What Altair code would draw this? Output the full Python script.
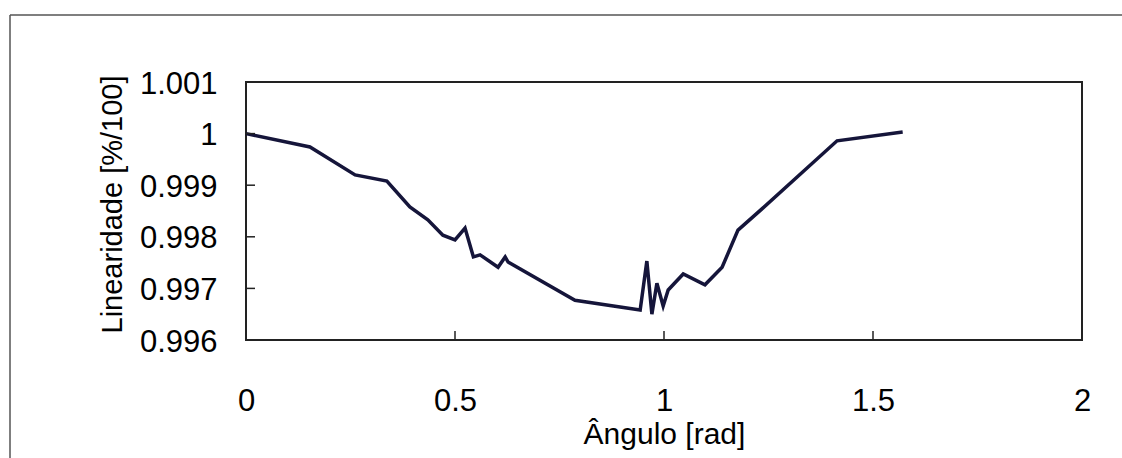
import altair as alt
import pandas as pd

# Angle (rad) and linearity (fraction of 1) along the measured curve
angulo = [0.000, 0.153, 0.261, 0.337, 0.392, 0.435, 0.471, 0.500, 0.524, 0.544,
          0.560, 0.603, 0.620, 0.627, 0.787, 0.943, 0.959, 0.971, 0.983, 0.998,
          1.010, 1.046, 1.098, 1.139, 1.177, 1.237, 1.414, 1.571]
linearidade = [1.00000, 0.99974, 0.99920, 0.99908, 0.99858, 0.99833, 0.99803,
               0.99794, 0.99817, 0.99761, 0.99765, 0.99741, 0.99761, 0.99751,
               0.99677, 0.99658, 0.99753, 0.99650, 0.99710, 0.99666, 0.99697,
               0.99728, 0.99707, 0.99741, 0.99813, 0.99856, 0.99986, 1.00003]

x_ticks = [0, 0.5, 1, 1.5, 2]
y_ticks = [0.996, 0.997, 0.998, 0.999, 1.000, 1.001]

W, H = 836, 258
FONT = "Liberation Sans"
LINE = "#15153a"
LABEL_EXPR = "format(datum.value, '.4~g')"

df = pd.DataFrame({"angulo": angulo, "linearidade": linearidade})

x_scale = alt.Scale(domain=[0, 2], nice=False, zero=False)
y_scale = alt.Scale(domain=[0.996, 1.001], nice=False, zero=False)

x_axis = alt.Axis(values=x_ticks, labelExpr=LABEL_EXPR, ticks=False, tickSize=0, domain=False,
                  grid=False, labelFont=FONT, labelFontSize=31, labelColor="black",
                  labelBaseline="alphabetic", labelPadding=70, labelFlush=False,
                  labelOverlap=False, title="Ângulo [rad]", titleFont=FONT,
                  titleFontSize=30, titleFontWeight="normal", titleColor="black",
                  titleX=418, titleY=103, titleBaseline="alphabetic", titleAlign="center")
y_axis = alt.Axis(values=y_ticks, labelExpr=LABEL_EXPR, ticks=False, tickSize=0, domain=False,
                  grid=False, labelFont=FONT, labelFontSize=31, labelColor="black",
                  labelPadding=29, labelOffset=2, labelFlush=False, labelOverlap=False,
                  title="Linearidade [%/100]", titleFont=FONT, titleFontSize=29,
                  titleFontWeight="normal", titleColor="black", titleX=-134,
                  titleY=122, titleAlign="center", titleBaseline="middle")

curve = alt.Chart(df).mark_line(color=LINE, strokeWidth=3.5, strokeJoin="miter").encode(
    x=alt.X("angulo:Q", scale=x_scale, axis=x_axis),
    y=alt.Y("linearidade:Q", scale=y_scale, axis=y_axis),
)

# Inward tick marks on the bottom and left edges of the plot box
xt = alt.Chart(pd.DataFrame({"angulo": x_ticks[1:-1]})).mark_rule(color="#222", strokeWidth=1.5).encode(
    x=alt.X("angulo:Q", scale=x_scale, axis=x_axis),
    y=alt.value(H), y2=alt.value(H - 9),
)
yt = alt.Chart(pd.DataFrame({"linearidade": y_ticks[1:-1]})).mark_rule(color="#222", strokeWidth=1.5).encode(
    y=alt.Y("linearidade:Q", scale=y_scale, axis=y_axis),
    x=alt.value(0), x2=alt.value(9),
)

# Outer frame around the figure
frame_top = alt.Chart(pd.DataFrame({"k": [0]})).mark_rule(color="#555", strokeWidth=1.5).encode(
    x=alt.value(-236), x2=alt.value(900), y=alt.value(-67),
)
frame_left = alt.Chart(pd.DataFrame({"k": [0]})).mark_rule(color="#555", strokeWidth=1.5).encode(
    x=alt.value(-236), y=alt.value(-67), y2=alt.value(400),
)

chart = alt.layer(curve, xt, yt, frame_top, frame_left).properties(
    width=W, height=H,
    autosize=alt.AutoSizeParams(type="none"),
    padding={"left": 246, "top": 82, "right": 40, "bottom": 118},
    background="white",
).configure_view(stroke="#222", strokeWidth=2)

chart.save("out.html", embed_options={"renderer": "svg", "actions": False})
